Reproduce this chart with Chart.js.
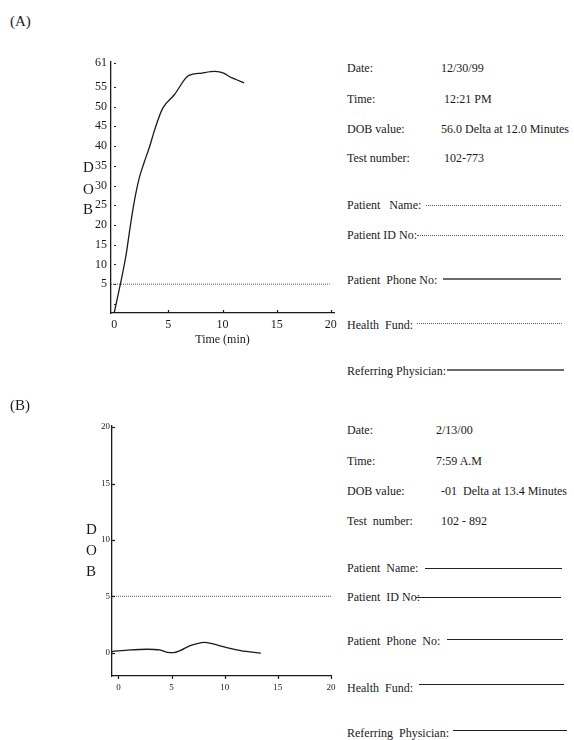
<!DOCTYPE html>
<html>
<head>
<meta charset="utf-8">
<script src="https://cdn.jsdelivr.net/npm/chart.js@4.4.1/dist/chart.umd.min.js"></script>
<style>
  html, body { margin:0; padding:0; background:#fff; }
  body { width:574px; height:740px; position:relative; overflow:hidden;
         font-family:"Liberation Serif","Times New Roman",serif; color:#1a1a1a; }
  canvas { position:absolute; left:0; }
  .t { position:absolute; font-size:12px; line-height:12px; white-space:pre; }
  .big { position:absolute; font-size:15px; line-height:15px; white-space:pre; }
  .ln { position:absolute; height:0; }
  .dot { border-top:1px dotted #555; }
  .solA { border-top:2px solid #6a6a6a; }
  .solB { border-top:1.5px solid #222; }
</style>
</head>
<body>
<canvas id="cA" width="345" height="310" style="top:40px"></canvas>
<canvas id="cB" width="345" height="300" style="top:400px"></canvas>
<div id="txt"></div>
<script>
// ---------- data ----------
const timeA = [0, 0.55, 1.09, 1.45, 1.85, 2.3, 2.73, 3.27, 3.73, 4.48, 5.55, 6.6, 6.9, 8.1, 9.3, 10.1, 10.7, 11.3, 12.0];
const dobA  = [-2.2, 4.8, 12.4, 19.1, 25.9, 31.8, 35.6, 39.9, 44.1, 49.6, 53.0, 57.2, 57.9, 58.5, 58.9, 58.5, 57.5, 56.8, 56.0];
const timeB = [-0.6, 1.1, 2.7, 3.9, 4.6, 5.2, 5.8, 6.7, 8.1, 8.9, 10.2, 11.5, 13.4];
const dobB  = [0.1, 0.24, 0.3, 0.24, 0.03, 0.0, 0.18, 0.6, 0.92, 0.77, 0.44, 0.18, -0.05];
const cutoff = 5;
const xTicks = [0, 5, 10, 15, 20];
const yTicksA = [0, 5, 10, 15, 20, 25, 30, 35, 40, 45, 50, 55, 61];
const yTicksB = [0, 5, 10, 15, 20];
const infoA = [
  ["Date:", "12/30/99"], ["Time:", " 12:21 PM"], ["DOB value:", "56.0 Delta at 12.0 Minutes"], ["Test number:", " 102-773"]
];
const formA = ["Patient   Name:", "Patient ID No:", "Patient  Phone No:", "Health  Fund:", "Referring Physician:"];
const infoB = [
  ["Date:", "2/13/00"], ["Time:", "7:59 A.M"], ["DOB value:", "-01  Delta at 13.4 Minutes"], ["Test  number:", "102 - 892"]
];
const formB = ["Patient  Name: ", "Patient  ID No:", "Patient  Phone  No:", "Health  Fund:", "Referring  Physician:"];

// ---------- text layout ----------
const txt = document.getElementById('txt');
function put(cls, s, x, yc, h) {
  const d = document.createElement('div');
  d.className = cls; d.textContent = s;
  d.style.left = x + 'px'; d.style.top = (yc - h / 2) + 'px';
  txt.appendChild(d);
}
function line(cls, x1, x2, y) {
  const d = document.createElement('div');
  d.className = 'ln ' + cls;
  d.style.left = x1 + 'px'; d.style.width = (x2 - x1) + 'px'; d.style.top = y + 'px';
  txt.appendChild(d);
}
put('big', '(A)', 10, 21, 15);
put('big', '(B)', 10, 405, 15);
[['D', 167], ['O', 189], ['B', 209]].forEach(([c, y]) => put('big', c, 83, y, 15));
[['D', 529], ['O', 550], ['B', 571]].forEach(([c, y]) => put('big', c, 86, y, 15));

const infoAY = [68, 99, 129, 158], infoAX = [441, 441, 441, 441];
infoA.forEach((r, i) => { put('t', r[0], 347, infoAY[i], 12); put('t', r[1], infoAX[i], infoAY[i], 12); });
const formAY = [205, 235, 280, 325, 371];
formA.forEach((s, i) => put('t', s, 347, formAY[i], 12));
line('dot', 426, 561, 205); line('dot', 417, 563, 235); line('solA', 443, 561, 278);
line('dot', 417, 562, 323); line('solA', 447, 564, 369);

const infoBY = [430, 461, 491, 521], infoBX = [436, 436, 441, 441];
infoB.forEach((r, i) => { put('t', r[0], 347, infoBY[i], 12); put('t', r[1], infoBX[i], infoBY[i], 12); });
const formBY = [568, 597, 641, 688, 733];
formB.forEach((s, i) => put('t', s, 347, formBY[i], 12));
line('solB', 425, 562, 568); line('solB', 416, 561, 597); line('solB', 447, 563, 639);
line('solB', 419, 564, 684); line('solB', 453, 567, 730);

// ---------- charts ----------
Chart.defaults.font.family = '"Liberation Serif","Times New Roman",serif';
Chart.defaults.color = '#1a1a1a';

const innerTicks = {
  id: 'innerTicks',
  afterDraw(chart, args, o) {
    const ctx = chart.ctx, a = chart.chartArea, sx = chart.scales.x, sy = chart.scales.y;
    ctx.save(); ctx.strokeStyle = '#1a1a1a'; ctx.lineWidth = 1.2;
    (o.yTicks || []).forEach(v => {
      const py = Math.round(sy.getPixelForValue(v)) + 0.5;
      ctx.beginPath(); ctx.moveTo(a.left + o.yGap, py); ctx.lineTo(a.left + o.yGap + o.yLen, py); ctx.stroke();
    });
    (o.xTicks || []).forEach(v => {
      const px = Math.round(sx.getPixelForValue(v)) + 0.5;
      ctx.beginPath(); ctx.moveTo(px, a.bottom + o.xGap); ctx.lineTo(px, a.bottom + o.xGap + o.xLen); ctx.stroke();
    });
    ctx.restore();
  }
};

function makeChart(id, cfg) {
  return new Chart(document.getElementById(id), {
    type: 'line',
    data: {
      datasets: [
        { data: cfg.t.map((t, i) => ({ x: t, y: cfg.v[i] })), borderColor: '#1a1a1a', borderWidth: 1.3,
          pointRadius: 0, cubicInterpolationMode: 'monotone', fill: false },
        { data: [{ x: cfg.xmin, y: cutoff }, { x: cfg.cutEnd, y: cutoff }], borderColor: '#555', borderWidth: 1,
          borderDash: [1, 1], pointRadius: 0, fill: false }
      ]
    },
    options: {
      responsive: false, animation: false,
      layout: { padding: cfg.pad },
      plugins: { legend: { display: false }, tooltip: { enabled: false },
        innerTicks: cfg.inner },
      scales: {
        x: {
          type: 'linear', min: cfg.xmin, max: cfg.xmax,
          afterBuildTicks: s => { s.ticks = xTicks.map(v => ({ value: v })); },
          afterFit: s => { s.height = cfg.xH; s.paddingLeft = 0; s.paddingRight = 0; },
          grid: { display: false, drawTicks: false },
          border: { display: true, color: '#1a1a1a', width: 1.3 },
          ticks: { font: { size: cfg.fs }, padding: cfg.xPad, maxRotation: 0, autoSkip: false },
          title: cfg.title
        },
        y: {
          type: 'linear', min: cfg.ymin, max: cfg.ymax,
          afterBuildTicks: s => { s.ticks = cfg.yTicks.map(v => ({ value: v })); },
          afterFit: s => { s.width = cfg.yW; s.paddingTop = 0; s.paddingBottom = 0; },
          grid: { display: false, drawTicks: false },
          border: { display: true, color: '#1a1a1a', width: 1.3 },
          ticks: { font: { size: cfg.fs }, padding: cfg.yPad, autoSkip: false,
            callback: v => (cfg.hideZero && v === 0) ? '' : String(v) }
        }
      }
    },
    plugins: [innerTicks]
  });
}

makeChart('cA', {
  t: timeA, v: dobA, xmin: -0.3, xmax: 20.3, cutEnd: 19.9, ymin: -2.3, ymax: 61.3,
  yTicks: yTicksA, hideZero: true, fs: 12, xPad: 5, yPad: 4, xH: 37, yW: 111,
  pad: { top: 22, right: 11, left: 0, bottom: 0 },
  title: { display: true, text: 'Time (min)', font: { size: 12 }, padding: { top: 0, bottom: 3 } },
  inner: { yTicks: yTicksA, yGap: 3, yLen: 2, xTicks: [5, 10, 15, 20], xGap: -1, xLen: -2 }
});

makeChart('cB', {
  t: timeB, v: dobB, xmin: -0.6, xmax: 20, cutEnd: 20, ymin: -2.07, ymax: 20.1,
  yTicks: yTicksB, hideZero: false, fs: 9, xPad: 6, yPad: 2, xH: 24, yW: 112,
  pad: { top: 26, right: 14, left: 0, bottom: 0 },
  title: { display: false },
  inner: { yTicks: yTicksB, yGap: 0, yLen: 3, xTicks: xTicks, xGap: 0, xLen: 3 }
});
</script>
</body>
</html>
